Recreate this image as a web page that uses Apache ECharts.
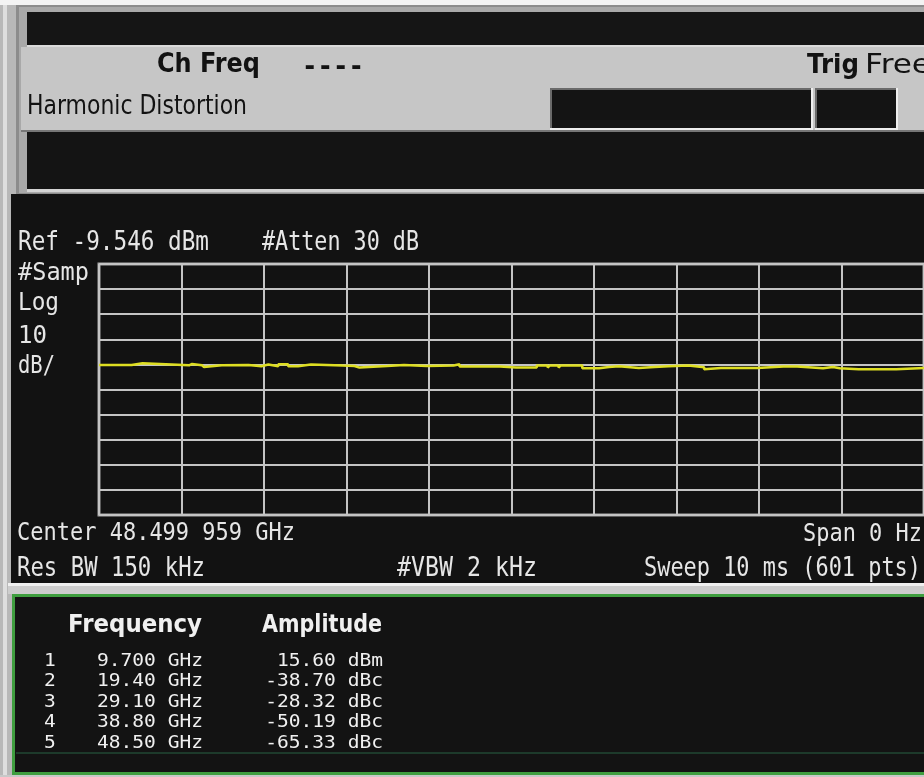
<!DOCTYPE html>
<html><head><meta charset="utf-8">
<script src="https://cdn.jsdelivr.net/npm/echarts@6/dist/echarts.min.js"></script>
<style>html,body{margin:0;padding:0;background:#121212;overflow:hidden}#c{width:924px;height:777px}</style>
</head><body><div id="c"></div>
<script>
// ---------- data ----------
const refLevelDbm = -9.546;
const dbPerDiv = 10;
const numDivY = 10;
const sweepMs = 10;
const timeDivMs = 1;
// trace (time in ms, level in dBm)
const traceTimeMs = [0, 0.396, 0.528, 1.092, 1.128, 1.248, 1.273, 1.489, 1.513, 1.813, 1.969, 2.053, 2.173, 2.293, 2.413, 2.569, 2.953, 3.097, 3.157, 3.493, 3.697, 3.974, 4.298, 4.370, 4.742, 4.766, 4.862, 5.054, 5.078, 5.306, 5.438, 5.462, 5.570, 5.594, 5.858, 6.062, 6.182, 6.303, 6.543, 6.735, 6.903, 7.143, 7.335, 7.347, 7.539, 7.563, 7.983, 8.295, 8.319, 8.463, 8.776, 8.896, 8.980, 9.208, 9.232, 9.664, 10];
const traceLevelDbm = [-49.75, -49.11, -49.90, -49.35, -49.90, -50.55, -49.90, -50.55, -49.75, -50.29, -49.62, -50.29, -49.48, -50.29, -49.62, -50.02, -50.16, -50.82, -50.16, -49.75, -50.16, -50.02, -49.48, -50.42, -51.09, -50.42, -50.82, -51.49, -50.82, -50.02, -50.82, -50.02, -50.82, -50.02, -51.09, -50.55, -50.29, -50.96, -50.55, -50.29, -50.02, -50.69, -51.49, -50.96, -51.62, -50.96, -50.42, -51.09, -50.42, -51.09, -50.55, -51.09, -51.49, -52.00, -51.49, -50.96, -50.96];
// harmonic table
const harmonicNo = [1, 2, 3, 4, 5];
const harmonicFreqGHz = [9.700, 19.40, 29.10, 38.80, 48.50];
const harmonicAmp = [15.60, -38.70, -28.32, -50.19, -65.33];
const harmonicUnit = ['dBm', 'dBc', 'dBc', 'dBc', 'dBc'];
// annotation texts
const titleText = 'Harmonic Distortion';
const chFreqLabel = 'Ch Freq';
const chFreqValue = '----';
const trigLabel = 'Trig';
const trigValue = 'Free';
const refText = 'Ref -9.546 dBm';
const attenText = '#Atten 30 dB';
const leftLabels = ['#Samp', 'Log', '10', 'dB/'];
const centerText = 'Center 48.499 959 GHz';
const spanText = 'Span 0 Hz';
const rbwText = 'Res BW 150 kHz';
const vbwText = '#VBW 2 kHz';
const sweepText = 'Sweep 10 ms (601 pts)';
const tableHeaders = ['Frequency', 'Amplitude'];

// ---------- helpers ----------
const mctx = document.createElement('canvas').getContext('2d');
function txt(text, x, y, o) {
  const fam = o.mono ? '"DejaVu Sans Mono"' : '"DejaVu Sans"';
  const size = o.cap / 0.729;
  const font = (o.bold ? 'bold ' : '') + size.toFixed(2) + 'px ' + fam;
  mctx.font = font;
  const w = mctx.measureText(text).width;
  const sx = o.sx != null ? o.sx : (o.w ? o.w / w : 1);
  const el = {
    type: 'text', x: x, y: y, z: 100, scaleX: sx, scaleY: 1, silent: true,
    style: { text: text, font: font, fill: o.fill, textAlign: o.align || 'left', align: o.align || 'left',
             textVerticalAlign: 'middle', verticalAlign: 'middle' }
  };
  el._sx = sx;
  return el;
}
function rect(x, y, w, h, fill, extra) {
  return Object.assign({ type: 'rect', z: 1, silent: true, shape: { x: x, y: y, width: w, height: h }, style: { fill: fill } }, extra || {});
}

const els = [];
// frame & panels
els.push(rect(0, 0, 924, 777, '#b8b8b8'));
els.push(rect(0, 0, 924, 5, '#f3f3f3'));
els.push(rect(3, 5, 4, 772, '#dedede'));
els.push(rect(16, 5, 908, 190, '#8c8c8c'));
els.push(rect(19, 7, 905, 186, '#a9a9a9'));
els.push(rect(27, 12, 897, 33, '#151515'));
els.push(rect(27, 45, 897, 2, '#dadada'));
els.push(rect(21, 47, 903, 83, '#c6c6c6'));
els.push(rect(21, 130, 903, 2, '#777777'));
els.push(rect(27, 132, 897, 57, '#141414'));
els.push(rect(27, 189, 897, 3, '#d4d4d4'));
els.push(rect(11, 194, 913, 389, '#121212'));
els.push(rect(8, 583, 916, 3, '#f0f0f0'));
els.push(rect(8, 586, 916, 8, '#cdcdcd'));
els.push(rect(13.5, 595.5, 912, 178, '#131313', { style: { fill: '#131313', stroke: '#3f9e3f', lineWidth: 3 } }));
els.push({ type: 'line', z: 2, silent: true, shape: { x1: 16, y1: 753, x2: 924, y2: 753 }, style: { stroke: '#1d3a2b', lineWidth: 2 } });
els.push(rect(0, 775, 924, 2, '#c8c8c8'));
// small boxes in the grey panel
els.push(rect(550, 88, 263, 42, '#eeeeee'));
els.push(rect(550, 88, 261, 2, '#6a6a6a'));
els.push(rect(550, 88, 2, 40, '#6a6a6a'));
els.push(rect(552, 90, 259, 38, '#141414'));
els.push(rect(815, 88, 83, 42, '#eeeeee'));
els.push(rect(815, 88, 81, 2, '#6a6a6a'));
els.push(rect(815, 88, 2, 40, '#6a6a6a'));
els.push(rect(817, 90, 79, 38, '#141414'));

// grey panel texts
const dark = '#121212';
els.push(txt(chFreqLabel, 157, 65, { cap: 19, bold: true, w: 103, fill: dark }));
els.push(txt(chFreqValue, 302, 68, { cap: 19, bold: true, mono: true, w: 62, fill: dark }));
els.push(txt(trigLabel, 807, 66, { cap: 19, bold: true, w: 52, fill: dark }));
els.push(txt(titleText, 27, 107, { cap: 20, w: 220, fill: dark }));
els.push(txt(trigValue, 865, 66, { cap: 19, w: 66, fill: dark }));

// black area texts
const wt = '#e6e6e6';
els.push(txt(refText, 18, 243, { cap: 19, mono: true, w: 191, fill: wt }));
els.push(txt(attenText, 262, 243, { cap: 19, mono: true, w: 157, fill: wt }));
const leftW = [71, 41, 29, 37];
const leftY = [274, 304, 337, 367];
leftLabels.forEach((s, i) => els.push(txt(s, 18, leftY[i], { cap: 18, mono: true, w: leftW[i], fill: wt })));
els.push(txt(centerText, 17, 534, { cap: 18, mono: true, w: 278, fill: wt }));
els.push(txt(spanText, 922, 535, { cap: 18, mono: true, w: 119, align: 'right', fill: wt }));
els.push(txt(rbwText, 17, 569, { cap: 19, mono: true, w: 188, fill: wt }));
els.push(txt(vbwText, 397, 569, { cap: 19, mono: true, w: 140, fill: wt }));
els.push(txt(sweepText, 921, 569, { cap: 19, mono: true, w: 277, align: 'right', fill: wt }));

// table
const tw = '#f0f0f0';
els.push(txt(tableHeaders[0], 68, 626, { cap: 18, bold: true, w: 134, fill: tw }));
els.push(txt(tableHeaders[1], 262, 626, { cap: 18, bold: true, w: 120, fill: tw }));
const freqStr = harmonicFreqGHz.map(f => f.toPrecision(4) + ' GHz');
const ampStr = harmonicAmp.map((a, i) => a.toFixed(2) + ' ' + harmonicUnit[i]);
const rowProbe = txt(freqStr[0], 0, 0, { cap: 13, mono: true, w: 106, fill: tw });
const rsx = rowProbe._sx;
harmonicNo.forEach((n, i) => {
  const y = 661 + i * 20.5;
  els.push(txt(String(n), 50, y, { cap: 13, mono: true, sx: rsx, align: 'center', fill: tw }));
  els.push(txt(freqStr[i], 203, y, { cap: 13, mono: true, sx: rsx, align: 'right', fill: tw }));
  els.push(txt(ampStr[i], 383, y, { cap: 13, mono: true, sx: rsx, align: 'right', fill: tw }));
});

const chart = echarts.init(document.getElementById('c'), null, { renderer: 'canvas' });
chart.setOption({
  backgroundColor: '#121212',
  animation: false,
  grid: { left: 99, top: 264, width: 834, height: 251, show: true, borderColor: '#a8a8a8', borderWidth: 3, backgroundColor: 'transparent', z: 5 },
  xAxis: {
    type: 'value', min: 0, max: sweepMs, interval: timeDivMs, z: 5,
    axisLine: { show: false }, axisTick: { show: false }, axisLabel: { show: false },
    splitLine: { show: true, lineStyle: { color: '#c4c4c4', width: 2 } }
  },
  yAxis: {
    type: 'value', min: refLevelDbm - dbPerDiv * numDivY, max: refLevelDbm, interval: dbPerDiv, z: 5,
    axisLine: { show: false }, axisTick: { show: false }, axisLabel: { show: false },
    splitLine: { show: true, lineStyle: { color: '#c4c4c4', width: 2 } }
  },
  series: [{
    type: 'line', step: 'end', symbol: 'none', showSymbol: false, z: 10,
    data: traceTimeMs.map((t, i) => [t, traceLevelDbm[i]]),
    lineStyle: { color: '#dede22', width: 2.5 }
  }],
  graphic: { elements: els }
});
</script></body></html>
